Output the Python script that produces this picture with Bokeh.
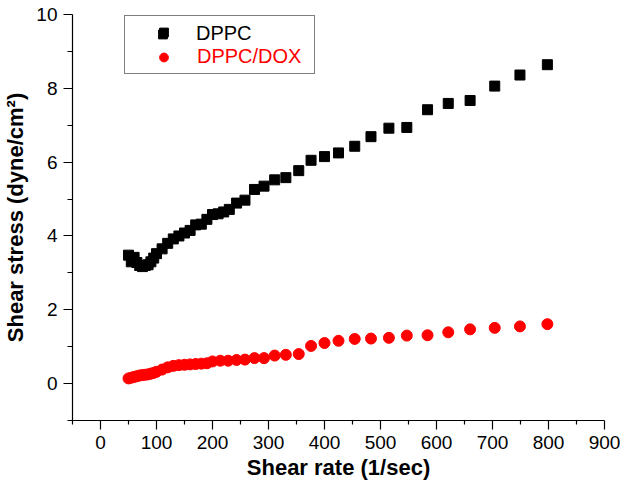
from bokeh.plotting import figure
from bokeh.models import Range1d, FixedTicker, Legend, LegendItem
from bokeh.embed import file_html
from bokeh.resources import INLINE

# Shear rate (1/sec)
rate_dppc = [50, 55, 60, 65, 70, 75, 80, 85, 90, 95, 100, 110, 120, 130, 140, 150,
             160, 170, 180, 190, 200, 210, 220, 230, 243, 258, 275, 292, 311, 331,
             354, 376, 400, 425, 454, 483, 515, 547, 584, 621, 660, 704, 749, 798]
stress_dppc = [3.48, 3.30, 3.42, 3.28, 3.20, 3.17, 3.20, 3.22, 3.30, 3.40, 3.52, 3.65,
               3.80, 3.92, 4.00, 4.08, 4.15, 4.30, 4.32, 4.45, 4.58, 4.60, 4.65, 4.72,
               4.89, 4.97, 5.26, 5.35, 5.52, 5.58, 5.77, 6.05, 6.15, 6.25, 6.43, 6.69,
               6.92, 6.94, 7.42, 7.59, 7.67, 8.06, 8.36, 8.64]

rate_dox = [50, 55, 60, 65, 70, 75, 80, 85, 90, 95, 100, 110, 120, 130, 140, 150,
            160, 170, 180, 190, 200, 214, 228, 243, 258, 275, 292, 311, 331, 354,
            376, 400, 425, 454, 483, 515, 547, 584, 621, 660, 704, 749, 798]
stress_dox = [0.14, 0.16, 0.18, 0.20, 0.22, 0.23, 0.24, 0.25, 0.27, 0.29, 0.32, 0.38,
              0.44, 0.48, 0.50, 0.51, 0.52, 0.53, 0.54, 0.55, 0.60, 0.62, 0.62, 0.64,
              0.65, 0.69, 0.69, 0.76, 0.78, 0.80, 1.02, 1.10, 1.16, 1.21, 1.22, 1.24,
              1.30, 1.31, 1.39, 1.47, 1.51, 1.55, 1.61]

x_major = [0, 100, 200, 300, 400, 500, 600, 700, 800, 900]
x_minor = [-50, 50, 150, 250, 350, 450, 550, 650, 750, 850]
y_major = [0, 2, 4, 6, 8, 10]
y_minor = [-1, 1, 3, 5, 7, 9]

FONT = "Liberation Sans"

p = figure(width=620, height=482, output_backend="svg", toolbar_location=None,
           x_range=Range1d(-50, 900), y_range=Range1d(-1, 10),
           min_border_left=68, min_border_right=16, min_border_top=14,
           min_border_bottom=62)
p.outline_line_color = None
p.grid.visible = False
p.background_fill_color = "white"
p.border_fill_color = "white"

r1 = p.scatter(rate_dppc, stress_dppc, marker="square", size=10,
               fill_color="black", line_color="black")
r2 = p.scatter(rate_dox, stress_dox, marker="circle", size=11,
               fill_color="#ff0000", line_color="#ff0000")

for ax, major, minor in ((p.xaxis[0], x_major, x_minor), (p.yaxis[0], y_major, y_minor)):
    ax.ticker = FixedTicker(ticks=major, minor_ticks=minor)
    ax.axis_line_color = "black"
    ax.axis_line_width = 1.2
    ax.major_tick_in = 0
    ax.major_tick_out = 9
    ax.minor_tick_in = 0
    ax.minor_tick_out = 5
    ax.major_tick_line_width = 1.2
    ax.minor_tick_line_width = 1.2
    ax.major_tick_line_color = "black"
    ax.minor_tick_line_color = "black"
    ax.major_label_text_font = FONT
    ax.major_label_text_font_size = "19px"
    ax.major_label_text_color = "black"
    ax.axis_label_text_font = FONT
    ax.axis_label_text_font_size = "22px"
    ax.axis_label_text_font_style = "bold"
    ax.axis_label_text_color = "black"

p.xaxis.minor_tick_out = 4
p.xaxis.axis_label = "Shear rate (1/sec)"
p.yaxis.axis_label = "Shear stress (dyne/cm²)"
p.xaxis.major_label_standoff = 6
p.xaxis.axis_label_standoff = 3
p.yaxis.major_label_standoff = 6
p.yaxis.axis_label_standoff = 5

common = dict(padding=5, spacing=2, glyph_width=67,
              glyph_height=22, label_height=22, label_standoff=0,
              label_text_font=FONT, label_text_font_size="20px")

leg_a = Legend(items=[LegendItem(label=" ", renderers=[r1]),
                      LegendItem(label="DPPC/DOX", renderers=[r2])],
               location=(52, 346),
               label_text_color="#ff0000", border_line_color="black",
               border_line_width=1.2, background_fill_color="white",
               background_fill_alpha=1.0, label_width=112, **common)
leg_b = Legend(items=[LegendItem(label="DPPC", renderers=[r1])],
               location=(52, 370),
               label_text_color="black", border_line_alpha=0,
               background_fill_alpha=0, **common)
p.add_layout(leg_a, "center")
p.add_layout(leg_b, "center")

open("out.html", "w").write(file_html(p, INLINE))
